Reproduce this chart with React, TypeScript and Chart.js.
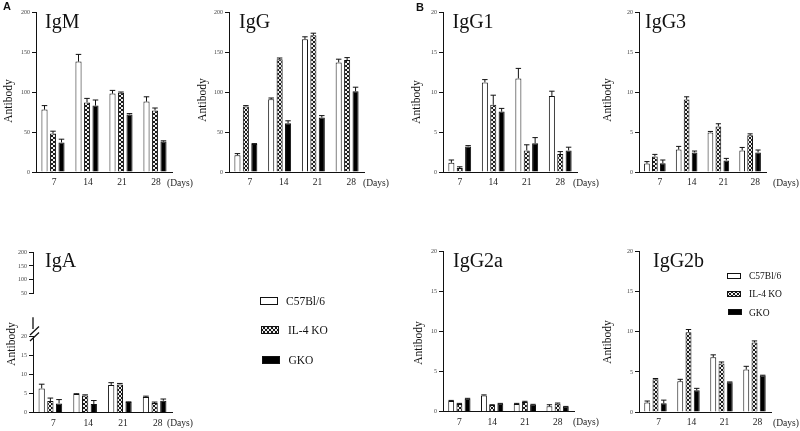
import React, { useEffect, useRef } from 'react';
import { Chart, registerables } from 'chart.js';

Chart.register(...registerables);

// ---------- data ----------
const DAYS = ['7', '14', '21', '28'];
const STRAINS = ['C57Bl/6', 'IL-4 KO', 'GKO'];
const Y_TICKS_200 = [0, 50, 100, 150, 200];
const Y_TICKS_20 = [0, 5, 10, 15, 20];
const Y_TICKS_BREAK_UPPER = [50, 100, 150, 200];

const IGM_C57 = [78, 138, 98, 88];
const IGM_C57_ERR = [5, 9, 4, 6];
const IGM_IL4 = [48, 87, 99, 77];
const IGM_IL4_ERR = [3, 5, 1, 3];
const IGM_GKO = [37, 83, 72, 38];
const IGM_GKO_ERR = [4, 7, 1, 1];

const IGG_C57 = [21, 91, 166, 137];
const IGG_C57_ERR = [2, 1.5, 3, 4];
const IGG_IL4 = [82, 141, 171, 140];
const IGG_IL4_ERR = [1, 1.5, 2.5, 3];
const IGG_GKO = [35, 61, 68, 101];
const IGG_GKO_ERR = [0.5, 3, 2.5, 5];

const IGG1_C57 = [1.15, 11.2, 11.7, 9.5];
const IGG1_C57_ERR = [0.35, 0.35, 1.25, 0.6];
const IGG1_IL4 = [0.5, 8.4, 2.7, 2.25];
const IGG1_IL4_ERR = [0.15, 1.2, 0.7, 0.3];
const IGG1_GKO = [3.2, 7.55, 3.6, 2.7];
const IGG1_GKO_ERR = [0.1, 0.4, 0.7, 0.4];

const IGG3_C57 = [1.05, 2.8, 4.95, 2.7];
const IGG3_C57_ERR = [0.25, 0.4, 0.12, 0.37];
const IGG3_IL4 = [1.95, 9.05, 5.7, 4.6];
const IGG3_IL4_ERR = [0.25, 0.35, 0.33, 0.17];
const IGG3_GKO = [1.1, 2.45, 1.45, 2.45];
const IGG3_GKO_ERR = [0.4, 0.17, 0.25, 0.3];

const IGA_C57 = [6.4, 4.9, 7.3, 4.1];
const IGA_C57_ERR = [1.1, 0.1, 0.6, 0.25];
const IGA_IL4 = [3.05, 4.55, 7.45, 2.55];
const IGA_IL4_ERR = [0.8, 0.15, 0.25, 0.25];
const IGA_GKO = [2.45, 2.3, 2.8, 3.15];
const IGA_GKO_ERR = [1.0, 0.9, 0.05, 0.45];

const IGG2A_C57 = [1.33, 2.04, 0.96, 0.67];
const IGG2A_C57_ERR = [0.08, 0.06, 0.08, 0.2];
const IGG2A_IL4 = [0.96, 0.83, 1.2, 1.0];
const IGG2A_IL4_ERR = [0.08, 0.04, 0.1, 0.08];
const IGG2A_GKO = [1.63, 1.0, 0.88, 0.62];
const IGG2A_GKO_ERR = [0.04, 0.04, 0.04, 0.04];

const IGG2B_C57 = [1.17, 3.83, 6.83, 5.3];
const IGG2B_C57_ERR = [0.2, 0.25, 0.3, 0.4];
const IGG2B_IL4 = [4.08, 9.96, 6.04, 8.67];
const IGG2B_IL4_ERR = [0.1, 0.33, 0.2, 0.2];
const IGG2B_GKO = [1.08, 2.7, 3.7, 4.54];
const IGG2B_GKO_ERR = [0.4, 0.25, 0.05, 0.05];

// ---------- layout / style ----------
const W = 800;
const H = 431;
const CH = 470; // canvas height (taller than page; container clips)
const YW = 30;
const XH = 24;
const SERIF = '"Liberation Serif", "Times New Roman", serif';
const SANS = '"Liberation Sans", Arial, sans-serif';

type LegendItem = { rx: number; ry: number; rw: number; rh: number; tx: number; ty: number };
type PanelCfg = {
  key: string;
  title?: string;
  L: number; T: number; R: number; B: number;
  yTicks: number[];
  series?: number[][];
  errors?: number[][];
  showX: boolean;
  labelOffset?: number;
  titleX?: number; titleY?: number;
  abX?: number; abY?: number;
  daysX?: number;
  letter?: { text: string; x: number; y: number };
  legend?: { items: LegendItem[]; size: number };
  breakMarks?: { top: number };
};

const PANELS: PanelCfg[] = [
  {
    key: 'igm', title: 'IgM', L: 36, T: 12, R: 172, B: 172, yTicks: Y_TICKS_200,
    series: [IGM_C57, IGM_IL4, IGM_GKO], errors: [IGM_C57_ERR, IGM_IL4_ERR, IGM_GKO_ERR],
    showX: true, labelOffset: 1, titleX: 45, titleY: 27.5, abX: 9, abY: 101, daysX: 167,
    letter: { text: 'A', x: 3, y: 10 },
  },
  {
    key: 'igg', title: 'IgG', L: 229, T: 12, R: 364, B: 172, yTicks: Y_TICKS_200,
    series: [IGG_C57, IGG_IL4, IGG_GKO], errors: [IGG_C57_ERR, IGG_IL4_ERR, IGG_GKO_ERR],
    showX: true, labelOffset: 4, titleX: 239, titleY: 27.5, abX: 203, abY: 100, daysX: 363,
  },
  {
    key: 'igg1', title: 'IgG1', L: 443, T: 12, R: 577, B: 172, yTicks: Y_TICKS_20,
    series: [IGG1_C57, IGG1_IL4, IGG1_GKO], errors: [IGG1_C57_ERR, IGG1_IL4_ERR, IGG1_GKO_ERR],
    showX: true, labelOffset: 0, titleX: 452.5, titleY: 28, abX: 417, abY: 102, daysX: 573,
    letter: { text: 'B', x: 416, y: 11 },
  },
  {
    key: 'igg3', title: 'IgG3', L: 639, T: 12, R: 766, B: 172, yTicks: Y_TICKS_20,
    series: [IGG3_C57, IGG3_IL4, IGG3_GKO], errors: [IGG3_C57_ERR, IGG3_IL4_ERR, IGG3_GKO_ERR],
    showX: true, labelOffset: 5, titleX: 645, titleY: 28, abX: 607.5, abY: 100, daysX: 773,
  },
  {
    key: 'igaTop', L: 33, T: 252.3, R: 172, B: 317.3, yTicks: Y_TICKS_BREAK_UPPER,
    showX: false,
  },
  {
    key: 'iga', title: 'IgA', L: 33, T: 336.7, R: 172, B: 412.7, yTicks: Y_TICKS_20,
    series: [IGA_C57, IGA_IL4, IGA_GKO], errors: [IGA_C57_ERR, IGA_IL4_ERR, IGA_GKO_ERR],
    showX: true, labelOffset: 3, titleX: 45, titleY: 266.5, abX: 11.5, abY: 344, daysX: 167,
    breakMarks: { top: 317.3 },
    legend: {
      size: 11.5,
      items: [
        { rx: 260, ry: 297, rw: 18, rh: 8, tx: 286, ty: 301.5 },
        { rx: 261, ry: 326, rw: 18, rh: 8, tx: 288, ty: 330.5 },
        { rx: 262, ry: 356, rw: 18, rh: 8, tx: 288.5, ty: 360.5 },
      ],
    },
  },
  {
    key: 'igg2a', title: 'IgG2a', L: 443, T: 251.7, R: 574, B: 411.7, yTicks: Y_TICKS_20,
    series: [IGG2A_C57, IGG2A_IL4, IGG2A_GKO], errors: [IGG2A_C57_ERR, IGG2A_IL4_ERR, IGG2A_GKO_ERR],
    showX: true, labelOffset: 0, titleX: 453, titleY: 267, abX: 419, abY: 343, daysX: 573,
  },
  {
    key: 'igg2b', title: 'IgG2b', L: 639, T: 251.7, R: 771, B: 412, yTicks: Y_TICKS_20,
    series: [IGG2B_C57, IGG2B_IL4, IGG2B_GKO], errors: [IGG2B_C57_ERR, IGG2B_IL4_ERR, IGG2B_GKO_ERR],
    showX: true, labelOffset: 3, titleX: 653, titleY: 267, abX: 607.5, abY: 342, daysX: 773,
    legend: {
      size: 9.5,
      items: [
        { rx: 727, ry: 273, rw: 14, rh: 6, tx: 749, ty: 276.5 },
        { rx: 727, ry: 291, rw: 14, rh: 6, tx: 749, ty: 294.5 },
        { rx: 728, ry: 309, rw: 14, rh: 6, tx: 749, ty: 313 },
      ],
    },
  },
];

function makeHatch(): CanvasPattern | string {
  const c = document.createElement('canvas');
  c.width = 4;
  c.height = 4;
  const g = c.getContext('2d');
  if (!g) return '#777';
  g.fillStyle = '#eeeeee';
  g.fillRect(0, 0, 4, 4);
  g.fillStyle = '#1a1a1a';
  for (let i = 0; i < 4; i++) {
    g.fillRect(i, i, 1, 1);
    g.fillRect(3 - i, i, 1, 1);
  }
  return g.createPattern(c, 'repeat') || '#777';
}

function Panel({ p }: { p: PanelCfg }) {
  const ref = useRef<HTMLCanvasElement>(null);
  useEffect(() => {
    const canvas = ref.current;
    if (!canvas) return;
    const hatch = makeHatch();
    const fills: any[] = ['#ffffff', hatch, '#000000'];
    const datasets = (p.series || []).map((vals, i) => ({
      label: STRAINS[i],
      data: vals,
      backgroundColor: fills[i],
      borderColor: '#111',
      borderWidth: 1,
      barPercentage: 0.72,
      categoryPercentage: 0.75,
    }));
    const yMin = p.yTicks[0];
    const yMax = p.yTicks[p.yTicks.length - 1];
    const yStep = p.yTicks[1] - p.yTicks[0];

    const errorPlugin = {
      id: 'errbars',
      afterDatasetsDraw(chart: any) {
        if (!p.errors) return;
        const ctx = chart.ctx;
        const ys = chart.scales.y;
        ctx.save();
        ctx.strokeStyle = '#111';
        ctx.lineWidth = 1;
        chart.data.datasets.forEach((ds: any, i: number) => {
          const meta = chart.getDatasetMeta(i);
          meta.data.forEach((el: any, j: number) => {
            const v = ds.data[j];
            const e = p.errors![i][j];
            const y1 = ys.getPixelForValue(v + e);
            const cap = el.width * 0.45;
            ctx.beginPath();
            ctx.moveTo(el.x, el.y);
            ctx.lineTo(el.x, y1);
            ctx.moveTo(el.x - cap, y1);
            ctx.lineTo(el.x + cap, y1);
            ctx.stroke();
          });
        });
        ctx.restore();
      },
    };

    const decorPlugin = {
      id: 'decor',
      afterDraw(chart: any) {
        const ctx = chart.ctx;
        ctx.save();
        ctx.fillStyle = '#111';
        if (p.title) {
          ctx.font = `20px ${SERIF}`;
          ctx.textAlign = 'left';
          ctx.textBaseline = 'alphabetic';
          ctx.fillText(p.title, p.titleX, p.titleY);
        }
        if (p.abX !== undefined) {
          ctx.save();
          ctx.translate(p.abX, p.abY);
          ctx.rotate(-Math.PI / 2);
          ctx.font = `11.5px ${SERIF}`;
          ctx.textAlign = 'center';
          ctx.textBaseline = 'middle';
          ctx.fillText('Antibody', 0, 0);
          ctx.restore();
        }
        if (p.daysX !== undefined) {
          ctx.font = `9.5px ${SERIF}`;
          ctx.fillStyle = '#222';
          ctx.textAlign = 'left';
          ctx.textBaseline = 'middle';
          ctx.fillText('(Days)', p.daysX, p.B + 11);
          ctx.fillStyle = '#111';
        }
        if (p.letter) {
          ctx.font = `bold 11px ${SANS}`;
          ctx.textAlign = 'left';
          ctx.textBaseline = 'alphabetic';
          ctx.fillText(p.letter.text, p.letter.x, p.letter.y);
        }
        if (p.breakMarks) {
          ctx.strokeStyle = '#111';
          ctx.lineWidth = 1.3;
          ctx.beginPath();
          ctx.moveTo(p.L, p.breakMarks.top);
          ctx.lineTo(p.L, 329);
          ctx.moveTo(p.L - 3, 335);
          ctx.lineTo(p.L + 6, 326.5);
          ctx.moveTo(p.L - 3, 341);
          ctx.lineTo(p.L + 6, 332.5);
          ctx.stroke();
        }
        if (p.legend) {
          p.legend.items.forEach((it, i) => {
            ctx.fillStyle = fills[i];
            ctx.fillRect(it.rx, it.ry, it.rw, it.rh);
            ctx.strokeStyle = '#111';
            ctx.lineWidth = 1;
            ctx.strokeRect(it.rx + 0.5, it.ry + 0.5, it.rw - 1, it.rh - 1);
            ctx.fillStyle = '#111';
            ctx.font = `${p.legend!.size}px ${SERIF}`;
            ctx.textAlign = 'left';
            ctx.textBaseline = 'middle';
            ctx.fillText(STRAINS[i], it.tx, it.ty);
          });
        }
        ctx.restore();
      },
    };

    const chart = new Chart(canvas, {
      type: 'bar',
      data: { labels: DAYS, datasets },
      options: {
        responsive: false,
        animation: false,
        events: [],
        layout: {
          padding: {
            left: p.L - YW,
            top: p.T,
            right: W - p.R,
            bottom: p.showX ? CH - p.B - XH : CH - p.B,
          },
        },
        plugins: { legend: { display: false }, tooltip: { enabled: false } },
        scales: {
          x: {
            display: p.showX,
            grid: { display: false, drawTicks: false, tickLength: 0 },
            border: { display: true, color: '#111', width: 1 },
            ticks: {
              display: true,
              autoSkip: false,
              maxRotation: 0,
              padding: 5,
              labelOffset: p.labelOffset || 0,
              color: '#222',
              font: { family: SERIF, size: 9.5 },
            },
            afterFit: (s: any) => { s.height = XH; },
          },
          y: {
            min: yMin,
            max: yMax,
            grid: { display: true, drawOnChartArea: false, drawTicks: true, tickLength: 4, color: '#111', lineWidth: 1 },
            border: { display: true, color: '#111', width: 1 },
            ticks: {
              stepSize: yStep,
              padding: 2,
              color: '#444',
              font: { family: SERIF, size: 6 },
            },
            afterFit: (s: any) => { s.width = YW; },
          },
        },
      } as any,
      plugins: [errorPlugin, decorPlugin],
    });
    return () => chart.destroy();
  }, [p]);
  return (
    <canvas
      ref={ref}
      width={W}
      height={CH}
      style={{ position: 'absolute', left: 0, top: 0, width: W, height: CH, pointerEvents: 'none' }}
    />
  );
}

export default function App() {
  return (
    <div style={{ position: 'fixed', left: 0, top: 0, width: W, height: H, background: '#ffffff', overflow: 'hidden' }}>
      {PANELS.map((p) => (
        <Panel key={p.key} p={p} />
      ))}
    </div>
  );
}
